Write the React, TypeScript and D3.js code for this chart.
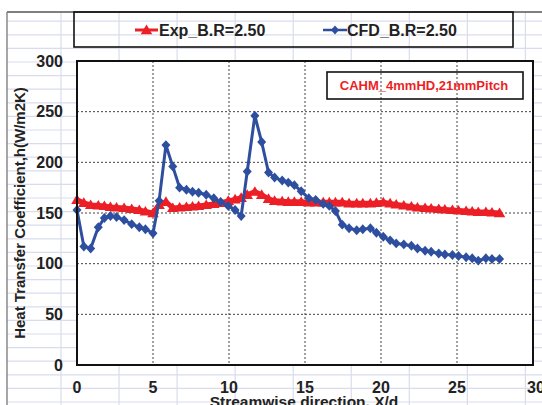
import React from "react";
import * as d3 from "d3";

const W = 542;
const H = 405;

const xTicks = [0, 5, 10, 15, 20, 25, 30];
const yTicks = [0, 50, 100, 150, 200, 250, 300];

const xPos = [
  0.0, 0.45, 0.9, 1.4, 1.8, 2.2, 2.6, 3.1, 3.6, 4.1, 4.5, 5.0, 5.4, 5.85, 6.3, 6.75,
  7.2, 7.6, 8.0, 8.5, 9.0, 9.45, 9.95, 10.4, 10.8, 11.2, 11.7, 12.15, 12.6, 13.0,
  13.5, 13.9, 14.3, 14.75, 15.25, 15.7, 16.2, 16.6, 17.0, 17.45, 17.9, 18.4, 18.8,
  19.3, 19.7, 20.15, 20.6, 21.0, 21.5, 22.0, 22.4, 22.9, 23.3, 23.8, 24.2, 24.7,
  25.1, 25.6, 26.0, 26.4, 26.9, 27.3, 27.8,
];

const expValues = [
  163, 160, 158, 157.5, 157, 156, 155.5, 155, 154, 153, 151.5, 150, 158, 161, 155,
  155.5, 156, 156.5, 157, 158, 159, 160, 162, 163.5, 165, 168, 171, 168, 164, 162,
  161.5, 161, 161, 161, 160.5, 160.5, 160.5, 160.5, 160.5, 160.5, 159.5, 159.5,
  159.5, 159.5, 160, 160.5, 159.5, 158.5, 157.5, 156.5, 155.5, 155, 154.5, 154,
  153.5, 153, 152.5, 152, 151.5, 151, 151, 150.5, 150,
];

const cfdValues = [
  153, 117, 115, 136, 145, 147, 146, 143, 139, 136, 134, 130, 162, 217, 196, 175,
  173, 171, 170, 168, 164.5, 161, 157, 153, 147, 191, 246, 220, 190, 185, 182, 180,
  177.5, 171.5, 164.5, 163, 159, 157, 152, 138.5, 135, 133, 134, 135, 130.5, 126.6,
  123, 120, 119, 117.7, 115, 112.8, 111.8, 110, 109, 108.5, 107.6, 106.3, 105.3,
  103, 105.3, 104.6, 104.6,
];

const seriesNames = ["Exp_B.R=2.50", "CFD_B.R=2.50"];
const annotation = "CAHM_4mmHD,21mmPitch";
const xTitle = "Streamwise direction, X/d";
const yTitle = "Heat Transfer Coefficient,h(W/m2K)";

const RED = "#ec1f26";
const BLUE = "#2e4f9f";
const FONT = "Liberation Sans, Arial, sans-serif";

const tri = (cx: number, cy: number, r: number) =>
  `M${cx},${cy - r}L${cx + r * 1.05},${cy + r * 0.75}L${cx - r * 1.05},${cy + r * 0.75}Z`;
const dia = (cx: number, cy: number, r: number) =>
  `M${cx},${cy - r * 1.1}L${cx + r},${cy}L${cx},${cy + r * 1.1}L${cx - r},${cy}Z`;

export default function App() {
  const left = 77, right = 533, top = 61, bottom = 365;
  const x = d3.scaleLinear().domain([0, 30]).range([left, right]);
  const y = d3.scaleLinear().domain([0, 300]).range([bottom, top]);

  const exp = xPos.map((xv, i) => [xv, expValues[i]] as [number, number]);
  const cfd = xPos.map((xv, i) => [xv, cfdValues[i]] as [number, number]);
  const line = d3
    .line<[number, number]>()
    .x((d) => x(d[0]))
    .y((d) => y(d[1]));

  const sheetV = d3.range(61, W, 58.05);
  const sheetH = d3.range(402, 12, -13.6);

  return (
    <svg
      width={W}
      height={H}
      style={{ position: "absolute", left: 0, top: 0, background: "#fff" }}
      fontFamily={FONT}
    >
      <rect x={0} y={0} width={W} height={H} fill="#fff" />
      {sheetV.map((v, i) => (
        <line key={"sv" + i} x1={v} x2={v} y1={12} y2={H} stroke="#d9dcec" strokeWidth={1.2} />
      ))}
      {sheetH.map((v, i) => (
        <line key={"sh" + i} x1={7} x2={W} y1={v} y2={v} stroke="#d9dcec" strokeWidth={1.2} />
      ))}
      <line x1={7} x2={W} y1={12} y2={12} stroke="#555" strokeWidth={1.3} />
      <line x1={7} x2={7} y1={12} y2={H} stroke="#777" strokeWidth={1.3} />

      {/* legend */}
      <rect x={74} y={12} width={439} height={35} fill="none" stroke="#111" strokeWidth={1.6} />
      <line x1={135} x2={158} y1={30} y2={30} stroke={RED} strokeWidth={3} />
      <path d={tri(146.5, 30, 5.5)} fill={RED} />
      <text x={159} y={35.5} fontSize={16} fontWeight="bold" fill="#222">
        {seriesNames[0]}
      </text>
      <line x1={323} x2={347} y1={30} y2={30} stroke={BLUE} strokeWidth={2.5} />
      <path d={dia(335, 30, 4)} fill={BLUE} />
      <text x={347} y={35.5} fontSize={16} fontWeight="bold" fill="#222">
        {seriesNames[1]}
      </text>

      {/* plot area */}
      <rect x={left} y={top} width={right - left} height={bottom - top} fill="#fff" />
      {yTicks.slice(1, -1).map((t) => (
        <line
          key={"gy" + t}
          x1={left}
          x2={right}
          y1={y(t)}
          y2={y(t)}
          stroke="#444"
          strokeWidth={1}
          strokeDasharray="2,2"
        />
      ))}
      {xTicks.slice(1, -1).map((t) => (
        <line
          key={"gx" + t}
          x1={x(t)}
          x2={x(t)}
          y1={top}
          y2={bottom}
          stroke="#444"
          strokeWidth={1}
          strokeDasharray="2,2"
        />
      ))}

      {/* annotation */}
      <rect x={327} y={72} width={196} height={27} fill="none" stroke="#111" strokeWidth={1.6} />
      <text x={424} y={89.5} textAnchor="middle" fontSize={13} fontWeight="bold" fill={RED}>
        {annotation}
      </text>

      {/* Exp series */}
      <path d={line(exp) || ""} fill="none" stroke={RED} strokeWidth={5} />
      {exp.map((d, i) => (
        <path key={"e" + i} d={tri(x(d[0]), y(d[1]), 5.5)} fill={RED} />
      ))}

      {/* CFD series */}
      <path d={line(cfd) || ""} fill="none" stroke={BLUE} strokeWidth={3} />
      {cfd.map((d, i) => (
        <path key={"c" + i} d={dia(x(d[0]), y(d[1]), 4.5)} fill={BLUE} />
      ))}

      <rect
        x={left}
        y={top}
        width={right - left}
        height={bottom - top}
        fill="none"
        stroke="#111"
        strokeWidth={2}
      />

      {yTicks.map((t) => (
        <text
          key={"ty" + t}
          x={63}
          y={y(t)}
          dy="0.36em"
          textAnchor="end"
          fontSize={16}
          fontWeight="bold"
          fill="#222"
        >
          {t}
        </text>
      ))}
      {xTicks.map((t) => (
        <text
          key={"tx" + t}
          x={x(t) + (t === 30 ? 3 : 0)}
          y={392.5}
          textAnchor="middle"
          fontSize={16}
          fontWeight="bold"
          fill="#222"
        >
          {t}
        </text>
      ))}
      <text x={304} y={407} textAnchor="middle" fontSize={15.5} fontWeight="bold" fill="#222">
        {xTitle}
      </text>
      <text
        transform={`translate(25,213) rotate(-90)`}
        textAnchor="middle"
        fontSize={15}
        fontWeight="bold"
        fill="#222"
      >
        {yTitle}
      </text>
    </svg>
  );
}
